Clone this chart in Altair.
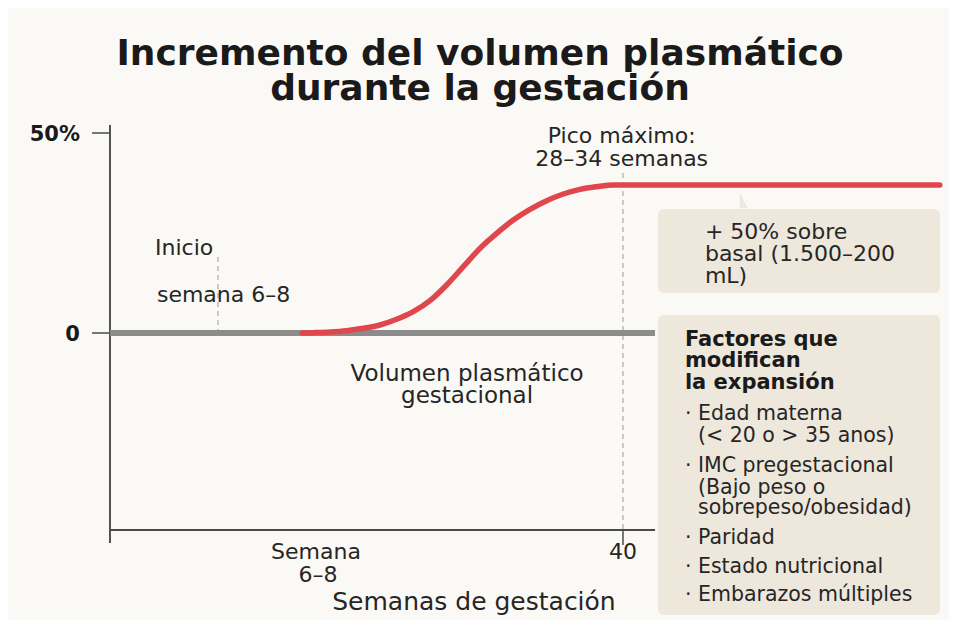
import altair as alt
import pandas as pd

# ---------------- data ----------------
curve_week = [15.0, 15.85, 17.15, 18.46, 19.75, 21.05, 22.35, 23.65, 24.95, 26.25, 27.55,
              28.85, 30.15, 31.45, 32.75, 34.05, 35.35, 36.65, 37.95, 39.24, 41.3, 64.7]
curve_pct = [0.0, 0.08, 0.25, 0.58, 1.17, 2.0, 3.42, 5.33, 8.08, 12.0, 16.58,
             21.17, 24.92, 28.25, 30.92, 33.08, 34.75, 35.92, 36.58, 37.0, 37.0, 37.0]
base_week = [0, 42.5]
base_pct = [0, 0]

title_lines = ["Incremento del volumen plasmático", "durante la gestación"]
y_tick_values = [0, 50]
y_tick_labels = ["0", "50%"]
x_tick_labels = ["Semana", "6–8", "40"]
x_title = "Semanas de gestación"
pico_lines = ["Pico máximo:", "28–34 semanas"]
inicio_lines = ["Inicio", "semana 6–8"]
curve_label = ["Volumen plasmático", "gestacional"]
box1_lines = ["+ 50% sobre", "basal (1.500–200", "mL)"]
box2_head = ["Factores que", "modifican", "la expansión"]
box2_items = ["· Edad materna", "(< 20 o > 35 anos)", "· IMC pregestacional",
              "(Bajo peso o", "sobrepeso/obesidad)", "· Paridad",
              "· Estado nutricional", "· Embarazos múltiples"]

# ---------------- styles ----------------
FONT = "DejaVu Sans"
TXT = "#262626"
BG = "#fbf9f5"
BOX = "#eee7dc"
RED = "#e0474c"
GREY = "#8c8c8c"
AXIS = "#4a4a4a"

xs = alt.Scale(domain=[0, 64.72], nice=False, zero=False)
ys = alt.Scale(domain=[-49.25, 52], nice=False, zero=False)


def X(f):
    return alt.X(f, type="quantitative", scale=xs, axis=None)


def Y(f):
    return alt.Y(f, type="quantitative", scale=ys, axis=None)


def texts(xv, yv, tv, size, weight="normal", align="left", color=TXT):
    df = pd.DataFrame({"x": xv, "y": yv, "t": tv})
    return alt.Chart(df).mark_text(
        font=FONT, fontSize=size, fontWeight=weight, align=align,
        baseline="alphabetic", color=color
    ).encode(x=X("x"), y=Y("y"), text="t:N")


def rules(x1, x2, y1, y2, color, width, dash=None):
    df = pd.DataFrame({"x": x1, "x2": x2, "y": y1, "y2": y2})
    kw = dict(color=color, strokeWidth=width)
    if dash:
        kw["strokeDash"] = dash
    return alt.Chart(df).mark_rule(**kw).encode(
        x=X("x"), x2="x2:Q", y=Y("y"), y2="y2:Q")


# axes drawn as rules
y_axis_line = rules([0], [0], [52], [-52.5], "#2a2a2a", 1.6)
x_axis_line = rules([0], [42.5], [-49.25], [-49.25], AXIS, 2)
y_tick_marks = rules([-1.4] * 2, [0] * 2, y_tick_values, y_tick_values, AXIS, 1.5)
x_tick_mark = rules([40], [40], [-49.25], [-53], AXIS, 1.5)
dashes = rules([8.42, 40], [8.42, 40], [19, 40], [0, -49.25], "#9a9a9a", 1, [5, 4])

base = alt.Chart(pd.DataFrame({"w": base_week, "p": base_pct})).mark_line(
    color=GREY, strokeWidth=6).encode(x=X("w"), y=Y("p"))
curve = alt.Chart(pd.DataFrame({"w": curve_week, "p": curve_pct})).mark_line(
    color=RED, strokeWidth=5.5, interpolate="monotone", strokeCap="round").encode(
    x=X("w"), y=Y("p"))

boxes_df = pd.DataFrame({"x": [42.73, 42.73], "x2": [64.72, 64.72],
                         "y": [31.0, 4.5], "y2": [10.0, -70.5]})
boxes = alt.Chart(boxes_df).mark_rect(cornerRadius=6, color=BOX).encode(
    x=X("x"), x2="x2:Q", y=Y("y"), y2="y2:Q")
pointer = alt.Chart(pd.DataFrame({"x": [49.1], "y": [33.2]})).mark_point(
    shape="M0,-1L0,1L1,1Z", filled=True, size=260, color=BOX, opacity=1).encode(
    x=X("x"), y=Y("y"))

layers = [
    dashes, y_axis_line, x_axis_line, y_tick_marks, x_tick_mark, base, curve, boxes, pointer,
    texts([28.85, 28.85], [67, 58.25], title_lines, 36, "bold", "center", "#1a1a1a"),
    texts([-2.34, -2.34], [-2, 48], y_tick_labels, 21, "bold", "right", "#1a1a1a"),
    texts([16.06, 16.22, 40.0], [-56.5, -62.25, -56.5], x_tick_labels, 22, align="center"),
    texts([28.38], [-69.25], [x_title], 25, align="center"),
    texts([39.9, 39.9], [47.5, 41.75], pico_lines, 22, align="center"),
    texts([3.51, 3.66], [19.5, 7.75], inicio_lines, 22),
    texts([27.84, 27.84], [-12, -17.5], curve_label, 23, align="center"),
    texts([46.39] * 3, [23.5, 18, 12.5], box1_lines, 22),
    texts([44.83] * 3, [-3.25, -8.5, -14], box2_head, 21, "bold", color="#1a1a1a"),
    texts([44.83, 45.85, 44.83, 45.85, 45.85, 44.83, 44.83, 44.83],
          [-21.75, -27.25, -34.75, -40.25, -45.25, -52.75, -60, -67], box2_items, 20.5),
]

chart = alt.layer(*layers).properties(
    width=830, height=405,
    autosize=alt.AutoSizeParams(type="none"),
    padding={"left": 102, "top": 117, "right": 9, "bottom": 90},
    background=BG,
).configure_view(stroke=None)

chart.save("out.html", embed_options={"renderer": "svg", "actions": False})
